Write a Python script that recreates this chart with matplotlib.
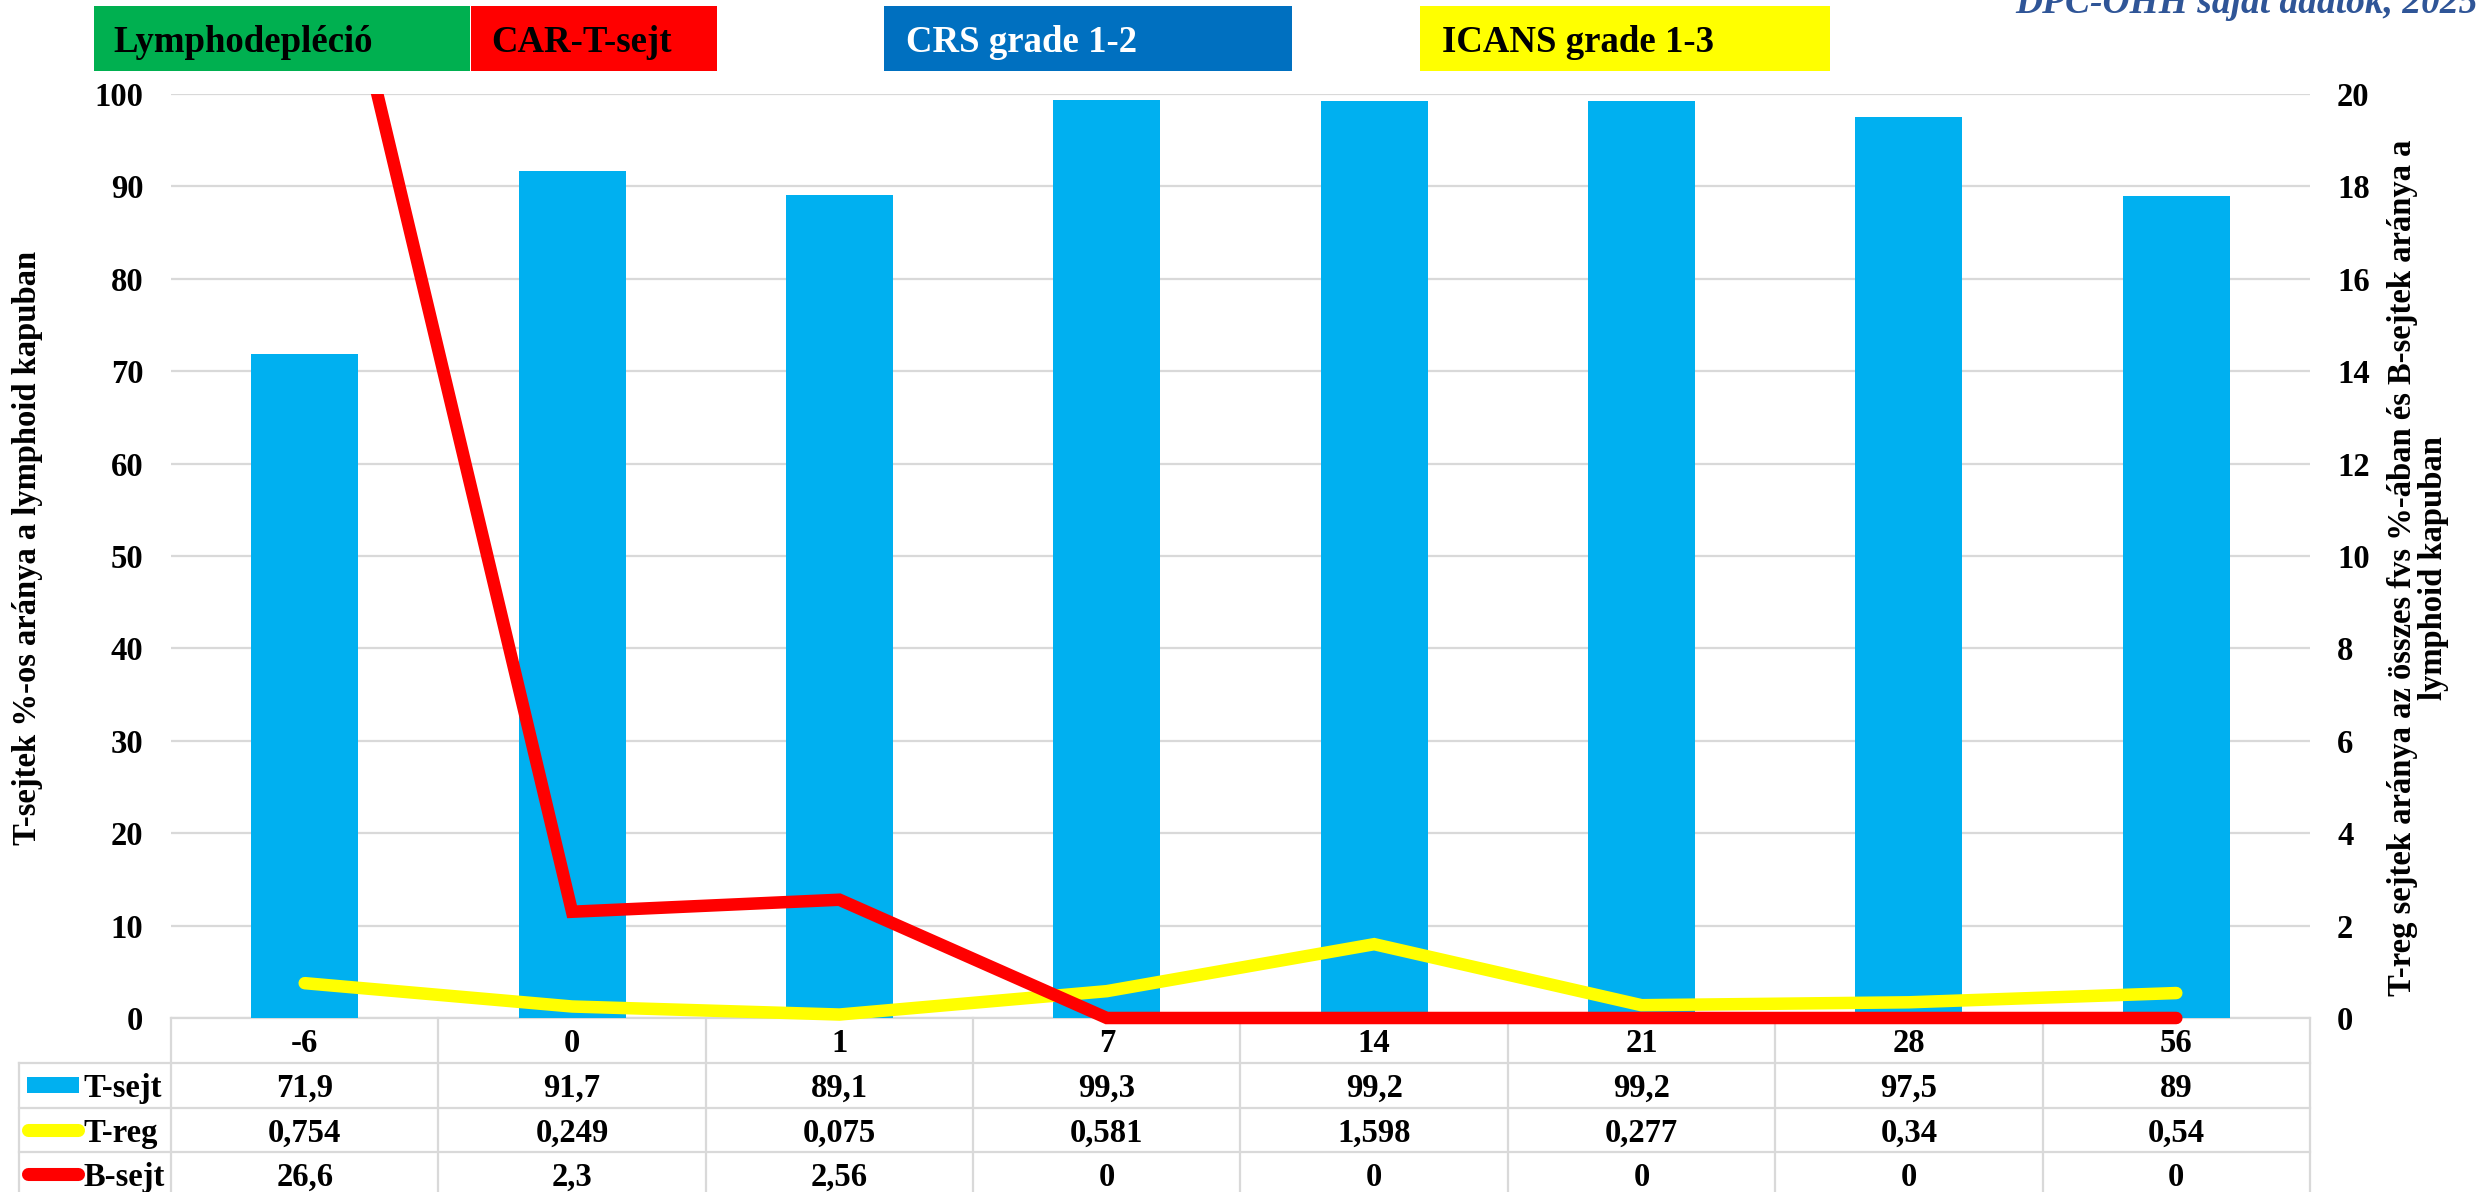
import matplotlib
matplotlib.use("Agg")
import matplotlib.pyplot as plt
from matplotlib.patches import Rectangle
from matplotlib.lines import Line2D
from matplotlib.transforms import blended_transform_factory

# ---- data -------------------------------------------------------------
days = ["-6", "0", "1", "7", "14", "21", "28", "56"]
t_sejt = [71.9, 91.7, 89.1, 99.3, 99.2, 99.2, 97.5, 89]
t_reg = [0.754, 0.249, 0.075, 0.581, 1.598, 0.277, 0.34, 0.54]
b_sejt = [26.6, 2.3, 2.56, 0, 0, 0, 0, 0]
series_names = ["T-sejt", "T-reg", "B-sejt"]
left_ticks = list(range(0, 101, 10))
right_ticks = list(range(0, 21, 2))

phases = ["Lymphodepléció", "CAR-T-sejt", "CRS grade 1-2", "ICANS grade 1-3"]
phase_colors = ["#00B050", "#FF0000", "#0070C0", "#FFFF00"]
phase_text_colors = ["black", "black", "white", "black"]
source_note = "DPC-OHH saját adatok, 2025"

left_title = "T-sejtek %-os aránya a lymphoid kapuban"
right_title = ("T-reg sejtek aránya az összes fvs %-ában és B-sejtek aránya a\n"
               "lymphoid kapuban")

# ---- styling ----------------------------------------------------------
plt.rcParams["font.family"] = ["Liberation Serif", "DejaVu Serif"]
plt.rcParams["font.weight"] = "bold"

BAR_COLOR = "#00B0F0"
TREG_COLOR = "#FFFF00"
BSEJT_COLOR = "#FF0000"
GRID_COLOR = "#D9D9D9"
FS = 23.5

W, H = 2476, 1192
PL, PR, PT, PB = 171, 2310, 94, 1018        # plot box in pixels
ROW_LINES = [1063, 1108, 1152]               # table row separators
ROW_BASE = [1052, 1097, 1142, 1186]          # text baselines per table row
LEG_LEFT = 19

fig = plt.figure(figsize=(W / 100, H / 100), dpi=100)

# page-level axes in pixel units for decorations and the data table
page = fig.add_axes([0, 0, 1, 1], zorder=0)
page.set_xlim(0, W)
page.set_ylim(H, 0)
page.axis("off")

ax = fig.add_axes([PL / W, (H - PB) / H, (PR - PL) / W, (PB - PT) / H], zorder=1)
ax.patch.set_visible(False)
x = list(range(len(days)))

ax.bar(x, t_sejt, width=0.40, color=BAR_COLOR, zorder=2)
ax.set_xlim(-0.5, len(days) - 0.5)
ax.set_ylim(0, 100)
ax.set_yticks(left_ticks)
ax.yaxis.grid(True, color=GRID_COLOR, lw=1.6)
ax.set_axisbelow(True)
ax.tick_params(axis="y", length=0, pad=20, labelsize=FS)
ax.tick_params(axis="x", bottom=False, labelbottom=False)
for s in ax.spines.values():
    s.set_visible(False)

ax2 = ax.twinx()
ax2.set_zorder(2)
ax2.patch.set_visible(False)
ax2.set_ylim(0, 20)
ax2.set_yticks(right_ticks)
ax2.tick_params(axis="y", length=0, pad=19.5, labelsize=FS)
for s in ax2.spines.values():
    s.set_visible(False)

clip = Rectangle((0, -0.012), 1, 1.012, transform=ax2.transAxes,
                 facecolor="none", edgecolor="none")
for vals, col in [(t_reg, TREG_COLOR), (b_sejt, BSEJT_COLOR)]:
    ln, = ax2.plot(x, vals, color=col, lw=9, solid_capstyle="round",
                   solid_joinstyle="miter")
    ln.set_clip_path(clip)

# ---- axis titles ------------------------------------------------------
page.text(28, 548, left_title, rotation=90, ha="center", va="center",
          fontsize=FS)
page.text(2418, 568, right_title, rotation=90, ha="center", va="center",
          fontsize=FS, linespacing=1.0, multialignment="center")

# ---- phase boxes on top -----------------------------------------------
boxes = [(94, 470), (471, 717), (884, 1292), (1420, 1830)]
text_x = [113, 491, 906, 1442]
for (x0, x1), label, fc, tc, tx in zip(boxes, phases, phase_colors,
                                        phase_text_colors, text_x):
    page.add_patch(Rectangle((x0, 6), x1 - x0, 65, facecolor=fc,
                             edgecolor="none"))
    page.text(tx, 52, label, fontsize=26.5, color=tc, va="baseline",
              ha="left")

page.text(2015, 13, source_note, fontsize=27, style="italic",
          color="#2F5597", va="baseline", ha="left")

# ---- data table -------------------------------------------------------
blend = blended_transform_factory(ax.transData, page.transData)

# horizontal rules
page.add_line(Line2D([-0.5, len(days) - 0.5], [PB, PB], transform=blend,
                     color=GRID_COLOR, lw=1.6))
for y in ROW_LINES:
    page.add_line(Line2D([LEG_LEFT, PR], [y, y], color=GRID_COLOR, lw=1.6))
# vertical rules
for i in range(len(days) + 1):
    page.add_line(Line2D([i - 0.5, i - 0.5], [PB, H], transform=blend,
                         color=GRID_COLOR, lw=1.6))
page.add_line(Line2D([LEG_LEFT, LEG_LEFT], [ROW_LINES[0], H],
                     color=GRID_COLOR, lw=1.6))


def fmt(v):
    return f"{v:g}".replace(".", ",")


for i, d in enumerate(days):
    page.text(i, ROW_BASE[0], d, transform=blend, ha="center",
              va="baseline", fontsize=FS)
for r, vals in enumerate([t_sejt, t_reg, b_sejt], start=1):
    for i, v in enumerate(vals):
        page.text(i, ROW_BASE[r], fmt(v), transform=blend, ha="center",
                  va="baseline", fontsize=FS)

# legend keys in the first table column
page.add_patch(Rectangle((27, 1077), 52, 16, facecolor=BAR_COLOR,
                         edgecolor="none"))
page.add_line(Line2D([28, 78], [1129.5, 1129.5], color=TREG_COLOR, lw=9.4,
                     solid_capstyle="round"))
page.add_line(Line2D([28, 78], [1173.5, 1173.5], color=BSEJT_COLOR, lw=9.4,
                     solid_capstyle="round"))
for r, name in enumerate(series_names, start=1):
    page.text(83, ROW_BASE[r], name, ha="left", va="baseline", fontsize=FS)

fig.savefig("out.png", dpi=100)
